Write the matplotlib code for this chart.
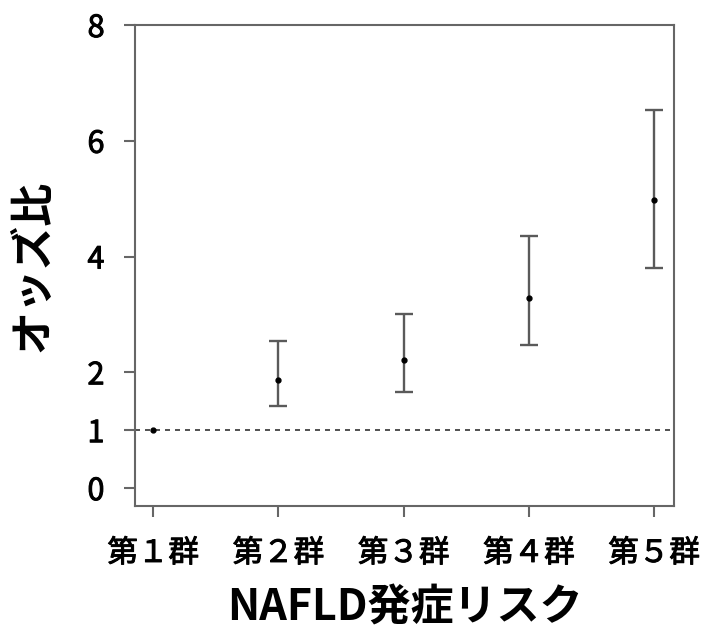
import numpy as np
import matplotlib.pyplot as plt
import matplotlib.patheffects as pe

plt.rcParams['font.family'] = ['Noto Sans CJK JP', 'DejaVu Sans']

groups = ['第１群', '第２群', '第３群', '第４群', '第５群']
odds = [1.0, 1.86, 2.22, 3.29, 4.97]
ci_low = [1.0, 1.41, 1.66, 2.47, 3.81]
ci_high = [1.0, 2.54, 3.0, 4.36, 6.54]
yticks = [0, 1, 2, 4, 6, 8]

x = np.arange(1, len(groups) + 1)
odds = np.array(odds)
err = [odds - np.array(ci_low), np.array(ci_high) - odds]

fig = plt.figure(figsize=(7.04, 6.3), dpi=100)
ax = fig.add_axes([0.1918, 0.1968, 0.7656, 0.7635])

ax.axhline(1, color='#333333', lw=1.2, ls=(0, (3, 3)), zorder=1)
ax.errorbar(x[1:], odds[1:], yerr=[e[1:] for e in err], fmt='none',
            ecolor='#5a5a5a', elinewidth=1.7, capsize=6.5, capthick=1.7, zorder=2)
ax.plot(x, odds, 'o', color='black', ms=3.5, zorder=3)

ax.set_xlim(0.856, 5.16)
ax.set_xticks(x)
ax.set_xticklabels(groups)
ax.set_yticks(yticks)
ax.set_yticklabels([str(t) for t in yticks])
ax.set_ylim(-0.31, 8)

for s in ax.spines.values():
    s.set_color('#666666')
    s.set_linewidth(1.5)
ax.tick_params(axis='both', color='#666666', width=1.5, length=8, labelsize=22)
ax.tick_params(axis='y', pad=14)
ax.tick_params(axis='x', pad=15)
# a thin stroke makes the regular face look like the medium weight
for lab in ax.get_xticklabels() + ax.get_yticklabels():
    lab.set_path_effects([pe.withStroke(linewidth=0.7, foreground='black')])

ax.set_xlabel('NAFLD発症リスク', fontsize=31, fontweight='bold')
ax.set_ylabel('オッズ比', fontsize=31, fontweight='bold')
ax.xaxis.set_label_coords(0.5, -0.165)
ax.yaxis.set_label_coords(-0.15, 0.5)

fig.savefig('out.png', dpi=100)
